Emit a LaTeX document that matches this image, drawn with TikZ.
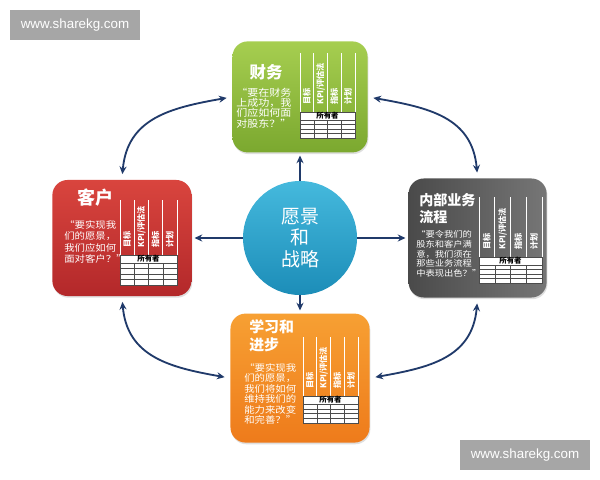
\documentclass[tikz,border=0pt]{standalone}
\usepackage{fontspec}
\newfontfamily\cjk{Noto Sans CJK SC}
\newfontfamily\cjkwide{Noto Sans CJK SC}[FakeStretch=1.12]
\newfontfamily\webfont{Liberation Sans}
\usepackage{tikz}
\usetikzlibrary{positioning, shadows}
\usetikzlibrary{arrows.meta}
\definecolor{navyline}{HTML}{203A6A}
\definecolor{finTop}{HTML}{A6CE50}
\definecolor{finBot}{HTML}{7BA82F}
\definecolor{cusTop}{HTML}{D9453E}
\definecolor{cusBot}{HTML}{B3282A}
\definecolor{intLeft}{HTML}{4A4A4A}
\definecolor{intRight}{HTML}{767676}
\definecolor{lrnTop}{HTML}{F7A033}
\definecolor{lrnBot}{HTML}{EE7B1B}
\definecolor{visTop}{HTML}{45B9DD}
\definecolor{visBot}{HTML}{1C8DB8}
\definecolor{markgray}{HTML}{A6A6A6}
\tikzstyle{cardbox}=[rectangle, rounded corners=0.38cm,
drop shadow={opacity=0.25,shadow xshift=0.6pt,shadow yshift=-1.2pt}]
\tikzstyle{visball}=[circle, minimum size=2.85cm, top color=visTop,
bottom color=visBot, text=white, align=center]
\tikzstyle{linkpath}=[-{Stealth[length=5.5pt,width=5pt]}, line width=1.3pt,
draw=navyline, shorten >=2pt]
\tikzstyle{cyclepath}=[{Stealth[length=5.5pt,width=5pt]}-{Stealth[length=5.5pt,width=5pt]},
line width=1.3pt, draw=navyline, shorten >=4pt, shorten <=4pt]
\tikzstyle{titletext}=[text=white, align=left, inner sep=0pt]
\tikzstyle{quotetext}=[text=white, align=left, inner sep=0pt, anchor=west]
\tikzstyle{colline}=[draw=white, line width=0.5pt]
\tikzstyle{gridline}=[draw=black!70, line width=0.35pt]
\tikzstyle{colhead}=[text=white, rotate=90, anchor=west, inner sep=0pt,
font=\cjk\bfseries\fontsize{5.8}{6}\selectfont]
\tikzstyle{ownertext}=[text=black, inner sep=0pt,
font=\cjk\bfseries\fontsize{5.3}{6}\selectfont]
\tikzstyle{webmark}=[rectangle, fill=markgray, text=white, minimum width=3.25cm,
minimum height=0.75cm, font=\webfont\fontsize{9.5}{11}\selectfont]
\def \cardgap {1.275cm}
% #1 name, #2 left, #3 right, #4 top, #5 owner row, #6 bottom (pixels)
\newcommand{\cardtable}[6]{%
    \pgfmathsetmacro{\colw}{(#3-#2)/4}
    \pgfmathsetmacro{\roww}{(#6-#5-8)/4}
    \foreach \k in {0,...,4}
        \draw[colline] ({#2+\k*\colw},-#4) -- ({#2+\k*\colw},-#5);
    \foreach \lab [count=\k] in {目标,KPI/评估法,指标,计划}
        \node[colhead] (#1-col\k) at ({#2+(\k-0.5)*\colw},{-#5+7}) {\lab};
    \draw[gridline, fill=white] (#2,-#5) rectangle (#3,-#6);
    \node[ownertext] (#1-owner) at ({(#2+#3)/2},{-#5-4}) {所有者};
    \foreach \r in {0,...,3}
        \draw[gridline] (#2,{-#5-8-\r*\roww}) -- (#3,{-#5-8-\r*\roww});
    \foreach \k in {1,2,3}
        \draw[gridline] ({#2+\k*\colw},{-#5-8}) -- ({#2+\k*\colw},-#6);
}

\begin{document}
\begin{tikzpicture}[x=0.025cm, y=0.025cm]
    \path[use as bounding box, fill=white] (0,0) rectangle (600,-480);

    \node[visball, font=\cjk\fontsize{13.5}{15.2}\selectfont] (vis) at (300,-238)
        {愿景\\和\\战略};
    \node[cardbox, minimum width=3.375cm, minimum height=2.775cm,
        top color=finTop, bottom color=finBot, above=0.7cm of vis] (fin) {};
    \node[cardbox, minimum width=3.475cm, minimum height=2.9cm,
        top color=cusTop, bottom color=cusBot, left=\cardgap of vis] (cus) {};
    \node[cardbox, minimum width=3.45cm, minimum height=2.975cm,
        left color=intLeft, right color=intRight, right=\cardgap of vis] (int) {};
    \node[cardbox, minimum width=3.475cm, minimum height=3.225cm,
        top color=lrnTop, bottom color=lrnBot, below=0.45cm of vis] (lrn) {};

    % finance
    \node[titletext, font=\cjk\bfseries\fontsize{11.7}{13}\selectfont] (fin-title)
        at (266,-72) {财务};
    \node[quotetext, font=\cjkwide\fontsize{7}{7.4}\selectfont] (fin-quote)
        at (236,-108) {“要在财务\\上成功，我\\们应如何面\\对股东？”};
    \cardtable{fin}{300}{355}{53}{112}{138}

    % customer
    \node[titletext, font=\cjk\bfseries\fontsize{12.8}{14}\selectfont] (cus-title)
        at (95,-198) {客户};
    \node[quotetext, font=\cjkwide\fontsize{6.6}{8}\selectfont] (cus-quote)
        at (64,-242) {“要实现我\\们的愿景，\\我们应如何\\面对客户？”};
    \cardtable{cus}{120}{177}{200}{255}{285}

    % internal process
    \node[titletext, anchor=west, font=\cjk\bfseries\fontsize{10}{12}\selectfont]
        (int-title) at (419,-208.5) {内部业务\\流程};
    \node[quotetext, font=\cjkwide\fontsize{5.9}{6.9}\selectfont] (int-quote)
        at (416,-254) {“要令我们的\\股东和客户满\\意，我们须在\\那些业务流程\\中表现出色？”};
    \cardtable{int}{479}{542}{197}{257}{283}

    % learning and growth
    \node[titletext, anchor=west, font=\cjk\bfseries\fontsize{10.6}{12.8}\selectfont]
        (lrn-title) at (249,-336) {学习和\\进步};
    \node[quotetext, font=\cjkwide\fontsize{6.6}{7.5}\selectfont] (lrn-quote)
        at (244,-394) {“要实现我\\们的愿景，\\我们将如何\\维持我们的\\能力来改变\\和完善？”};
    \cardtable{lrn}{303}{358}{337}{396}{423}

    \draw[linkpath] (vis) -- (fin);
    \draw[linkpath] (vis) -- (cus);
    \draw[linkpath] (vis) -- (int);
    \draw[linkpath] (vis) -- (lrn);

    \draw[cyclepath] (fin.west) to[out=190, in=85, looseness=1.15] (cus.north);
    \draw[cyclepath] (fin.east) to[out=-10, in=95, looseness=1.15] (int.north);
    \draw[cyclepath] (int.south) to[out=-95, in=10, looseness=1.15] (lrn.east);
    \draw[cyclepath] (cus.south) to[out=-85, in=170, looseness=1.15] (lrn.west);

    \node[webmark] (mark-top) at (75,-25) {www.sharekg.com};
    \node[webmark] (mark-bottom) at (525,-455) {www.sharekg.com};
\end{tikzpicture}
\end{document}
